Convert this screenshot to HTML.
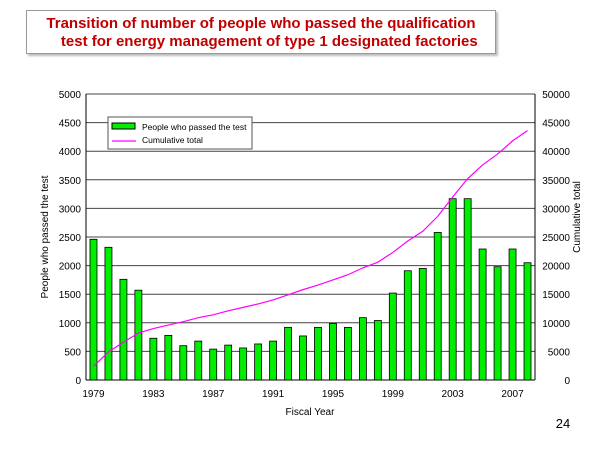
<!DOCTYPE html>
<html><head><meta charset="utf-8"><style>
body{margin:0;background:#fff;width:600px;height:450px;overflow:hidden;font-family:"Liberation Sans",sans-serif}
#title{position:absolute;left:26px;top:10px;width:470px;height:44px;border:1px solid #999;box-shadow:2px 2px 2px #bbb;color:#c00000;font-weight:bold;font-size:15px;line-height:18px;text-align:center;padding-top:4px;box-sizing:border-box;white-space:nowrap}
</style></head><body>
<div id="title">Transition of number of people who passed the qualification<br>&nbsp;&nbsp;&nbsp;&nbsp;test for energy management of type 1 designated factories</div>
<svg id="c" width="600" height="450" style="position:absolute;left:0;top:0"></svg>
<script>
const years=[1979,1980,1981,1982,1983,1984,1985,1986,1987,1988,1989,1990,1991,1992,1993,1994,1995,1996,1997,1998,1999,2000,2001,2002,2003,2004,2005,2006,2007,2008];
const passed=[2460,2320,1760,1570,730,780,600,680,540,610,560,630,680,920,770,920,990,920,1090,1040,1520,1910,1950,2580,3170,3170,2290,1980,2290,2050];
const cumulative=[2400,4900,6600,8200,9000,9600,10200,10900,11400,12100,12700,13300,14000,14900,15800,16600,17500,18400,19600,20600,22300,24300,26000,28600,32000,35200,37600,39500,41800,43600];
const leftTicks=[0,500,1000,1500,2000,2500,3000,3500,4000,4500,5000];
const rightTicks=[0,5000,10000,15000,20000,25000,30000,35000,40000,45000,50000];
const xLabels=[1979,1983,1987,1991,1995,1999,2003,2007];
const NS="http://www.w3.org/2000/svg",svg=document.getElementById('c');
const L=86,R=535,T=94,B=380,slot=(R-L)/years.length;
const xc=i=>L+(i+0.5)*slot, yl=v=>B-(v/5000)*(B-T), yr=v=>B-(v/50000)*(B-T);
function mk(t,a,txt){const e=document.createElementNS(NS,t);for(const k in a)e.setAttribute(k,a[k]);if(txt!=null)e.textContent=txt;svg.appendChild(e);return e;}
leftTicks.forEach((v,i)=>{
 const g=mk('line',{x1:L,x2:R,y1:yl(v),y2:yl(v),stroke:i==0?'#000':'#444','stroke-width':1});
 
 const t=mk('text',{x:L-5,y:yl(v)+4,'text-anchor':'end','font-size':10},v);
 
});
rightTicks.forEach(v=>{
 const t=mk('text',{x:R+35,y:yr(v)+4,'text-anchor':'end','font-size':10},v);
 
});
mk('line',{x1:L,x2:L,y1:T,y2:B,stroke:'#000'});
mk('line',{x1:R,x2:R,y1:T,y2:B,stroke:'#000'});
years.forEach((y,i)=>{
 const r=mk('rect',{x:xc(i)-3.5,y:yl(passed[i]),width:7,height:B-yl(passed[i]),fill:'#00ee00',stroke:'#000','stroke-width':0.8});
 
});
xLabels.forEach(y=>{
 const i=years.indexOf(y);
 const t=mk('text',{x:xc(i),y:B+17,'text-anchor':'middle','font-size':10},y);
 
});
const p=mk('polyline',{points:cumulative.map((v,i)=>xc(i)+','+yr(v)).join(' '),fill:'none',stroke:'#ff00ff','stroke-width':1.2});

const lg=mk('rect',{x:108,y:117,width:144,height:32,fill:'#fff',stroke:'#555'});

mk('rect',{x:112,y:123,width:23,height:6,fill:'#00ee00',stroke:'#000'});
mk('text',{x:142,y:130,'font-size':8.5},'People who passed the test');
mk('line',{x1:112,x2:136,y1:141,y2:141,stroke:'#ff00ff','stroke-width':1.2});
mk('text',{x:142,y:143,'font-size':8.5},'Cumulative total');
const xt=mk('text',{x:310,y:415,'text-anchor':'middle','font-size':10},'Fiscal Year');

const yt=mk('text',{x:48,y:237,'text-anchor':'middle','font-size':10,transform:'rotate(-90 48 237)'},'People who passed the test');

const yt2=mk('text',{x:580,y:217,'text-anchor':'middle','font-size':10,transform:'rotate(-90 580 217)'},'Cumulative total');

const pn=mk('text',{x:563,y:428,'text-anchor':'middle','font-size':13},'24');

</script>
</body></html>
